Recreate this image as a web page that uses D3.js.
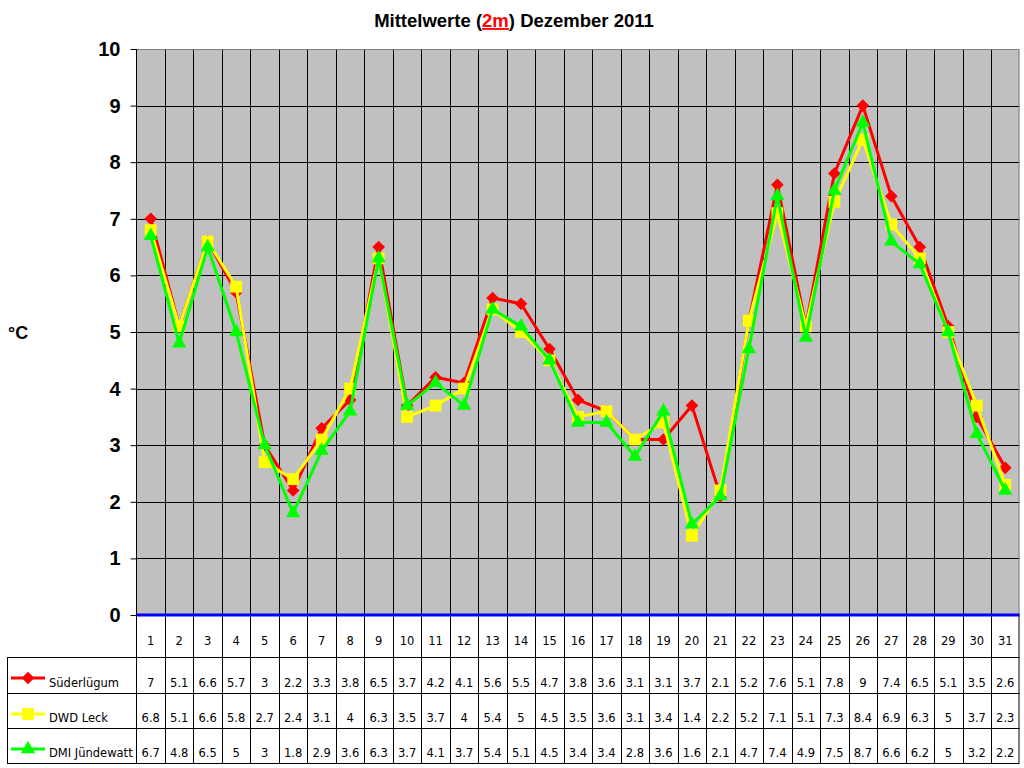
<!DOCTYPE html>
<html>
<head>
<meta charset="utf-8">
<script src="https://cdn.jsdelivr.net/npm/d3@7"></script>
<style>
  body { margin: 0; background: #fff; }
  svg { display: block; }
</style>
</head>
<body>
<div id="chart"></div>
<script>
const days = d3.range(1, 32);
const seriesNames = ["Süderlügum", "DWD Leck", "DMI Jündewatt"];
const suederluegum = [7, 5.1, 6.6, 5.7, 3, 2.2, 3.3, 3.8, 6.5, 3.7, 4.2, 4.1, 5.6, 5.5, 4.7, 3.8, 3.6, 3.1, 3.1, 3.7, 2.1, 5.2, 7.6, 5.1, 7.8, 9, 7.4, 6.5, 5.1, 3.5, 2.6];
const dwdLeck = [6.8, 5.1, 6.6, 5.8, 2.7, 2.4, 3.1, 4, 6.3, 3.5, 3.7, 4, 5.4, 5, 4.5, 3.5, 3.6, 3.1, 3.4, 1.4, 2.2, 5.2, 7.1, 5.1, 7.3, 8.4, 6.9, 6.3, 5, 3.7, 2.3];
const dmiJuendewatt = [6.7, 4.8, 6.5, 5, 3, 1.8, 2.9, 3.6, 6.3, 3.7, 4.1, 3.7, 5.4, 5.1, 4.5, 3.4, 3.4, 2.8, 3.6, 1.6, 2.1, 4.7, 7.4, 4.9, 7.5, 8.7, 6.6, 6.2, 5, 3.2, 2.2];
const yTicks = d3.range(0, 11);

const series = [
  { name: seriesNames[0], values: suederluegum, color: "#ff0000", marker: "diamond" },
  { name: seriesNames[1], values: dwdLeck, color: "#ffff00", marker: "square" },
  { name: seriesNames[2], values: dmiJuendewatt, color: "#00ff00", marker: "triangle" },
];

const W = 1024, H = 768;
const plotLeft = 136.5, plotRight = 1019.5, plotTop = 49, plotBottom = 615;
const tableLeft = 7;
const rowLines = [657, 693, 728, 763];

const svg = d3.select("#chart").append("svg").attr("width", W).attr("height", H);

const x = d3.scaleBand().domain(days).range([plotLeft, plotRight]).padding(0);
const y = d3.scaleLinear().domain([0, 10]).range([plotBottom, plotTop]);

// title
const title = svg.append("text")
  .attr("x", 514).attr("y", 27)
  .attr("text-anchor", "middle")
  .style("font-family", "Liberation Sans, Arial, sans-serif")
  .style("font-weight", "bold")
  .style("font-size", "18.5px");
title.append("tspan").text("Mittelwerte (");
title.append("tspan").text("2m").attr("fill", "#ff0000").attr("text-decoration", "underline");
title.append("tspan").text(") Dezember 2011");

// plot area
svg.append("rect")
  .attr("x", plotLeft).attr("y", plotTop)
  .attr("width", plotRight - plotLeft).attr("height", plotBottom - plotTop)
  .attr("fill", "#c0c0c0");

svg.append("g")
  .selectAll("line")
  .data(yTicks.filter((d) => d > 0 && d < 10))
  .enter()
  .append("line")
  .attr("x1", plotLeft).attr("x2", plotRight)
  .attr("y1", (d) => Math.round(y(d)) + 0.5).attr("y2", (d) => Math.round(y(d)) + 0.5)
  .attr("stroke", "#000").attr("stroke-width", 1);

// vertical lines through plot and table
svg.append("g")
  .selectAll("line")
  .data(days.slice(1))
  .enter()
  .append("line")
  .attr("x1", (d) => Math.round(x(d)) + 0.5).attr("x2", (d) => Math.round(x(d)) + 0.5)
  .attr("y1", plotTop).attr("y2", rowLines[3])
  .attr("stroke", "#000").attr("stroke-width", 1);

// plot border (top, right grey)
svg.append("path")
  .attr("d", `M${plotLeft},${plotTop + 0.5}H${plotRight - 0.5}V${plotBottom}`)
  .attr("fill", "none").attr("stroke", "#808080").attr("stroke-width", 1);

svg.append("line")
  .attr("x1", plotLeft).attr("x2", plotLeft).attr("y1", plotTop).attr("y2", rowLines[3])
  .attr("stroke", "#000").attr("stroke-width", 1);
svg.append("line")
  .attr("x1", plotRight - 0.5).attr("x2", plotRight - 0.5).attr("y1", plotBottom).attr("y2", rowLines[3])
  .attr("stroke", "#000").attr("stroke-width", 1);

const yAxis = svg.append("g")
  .attr("transform", `translate(${plotLeft},0)`)
  .call(d3.axisLeft(y).tickValues(yTicks).tickSize(6).tickPadding(10).tickFormat(d3.format("d")));
yAxis.select(".domain").remove();
yAxis.selectAll("line").attr("stroke", "#000");
yAxis.selectAll("text")
  .style("font-family", "Liberation Sans, Arial, sans-serif")
  .style("font-weight", "bold")
  .style("font-size", "20px")
  .attr("fill", "#000");

svg.append("text")
  .attr("x", 8).attr("y", 339)
  .text("°C")
  .style("font-family", "Liberation Sans, Arial, sans-serif")
  .style("font-weight", "bold")
  .style("font-size", "18px");

// zero line
svg.append("line")
  .attr("x1", plotLeft).attr("x2", plotRight)
  .attr("y1", y(0)).attr("y2", y(0))
  .attr("stroke", "#0000ff").attr("stroke-width", 3);

// table lines
svg.append("g")
  .selectAll("line")
  .data(rowLines)
  .enter()
  .append("line")
  .attr("x1", tableLeft).attr("x2", plotRight)
  .attr("y1", (d) => d + 0.5).attr("y2", (d) => d + 0.5)
  .attr("stroke", "#000");
svg.append("line")
  .attr("x1", tableLeft + 0.5).attr("x2", tableLeft + 0.5)
  .attr("y1", rowLines[0]).attr("y2", rowLines[3])
  .attr("stroke", "#000");

const tableFont = "DejaVu Sans, Tahoma, sans-serif";
const tableSize = "11.5px";
svg.append("g")
  .selectAll("text")
  .data(days)
  .enter()
  .append("text")
  .attr("x", (d) => x(d) + x.bandwidth() / 2)
  .attr("y", 645)
  .attr("text-anchor", "middle")
  .style("font-family", tableFont)
  .style("font-size", tableSize)
  .text((d) => d);

// markers
function markerPath(type) {
  if (type === "diamond") return d3.symbol(d3.symbolSquare, 80)();
  if (type === "square") return d3.symbol(d3.symbolSquare, 140)();
  return d3.symbol(d3.symbolTriangle, 90)();
}

const line = d3.line()
  .x((d, i) => x(days[i]) + x.bandwidth() / 2)
  .y((d) => y(d));

series.forEach((s, si) => {
  const g = svg.append("g");
  g.append("path")
    .datum(s.values)
    .attr("fill", "none")
    .attr("stroke", s.color)
    .attr("stroke-width", 3)
    .attr("stroke-linejoin", "round")
    .attr("d", line);
  g.selectAll(".mk")
    .data(s.values)
    .enter()
    .append("path")
    .attr("class", "mk")
    .attr("d", markerPath(s.marker))
    .attr("fill", s.color)
    .attr("transform", (d, i) =>
      `translate(${x(days[i]) + x.bandwidth() / 2},${y(d)})` + (s.marker === "diamond" ? " rotate(45)" : ""));

  // table row
  const rowTop = rowLines[si], rowBot = rowLines[si + 1];
  const base = rowBot - 6;
  const lg = svg.append("g");
  lg.append("line")
    .attr("x1", 11).attr("x2", 45)
    .attr("y1", rowTop + 21).attr("y2", rowTop + 21)
    .attr("stroke", s.color).attr("stroke-width", 3);
  lg.append("path")
    .attr("d", markerPath(s.marker))
    .attr("fill", s.color)
    .attr("transform", `translate(28,${rowTop + 21})` + (s.marker === "diamond" ? " rotate(45)" : ""));
  lg.append("text")
    .attr("x", 49).attr("y", base)
    .style("font-family", tableFont)
    .style("font-size", tableSize)
    .text(s.name);
  lg.selectAll(".val")
    .data(s.values)
    .enter()
    .append("text")
    .attr("class", "val")
    .attr("x", (d, i) => x(days[i]) + x.bandwidth() / 2)
    .attr("y", base)
    .attr("text-anchor", "middle")
    .style("font-family", tableFont)
    .style("font-size", tableSize)
    .text((d) => d);
});
</script>
</body>
</html>
